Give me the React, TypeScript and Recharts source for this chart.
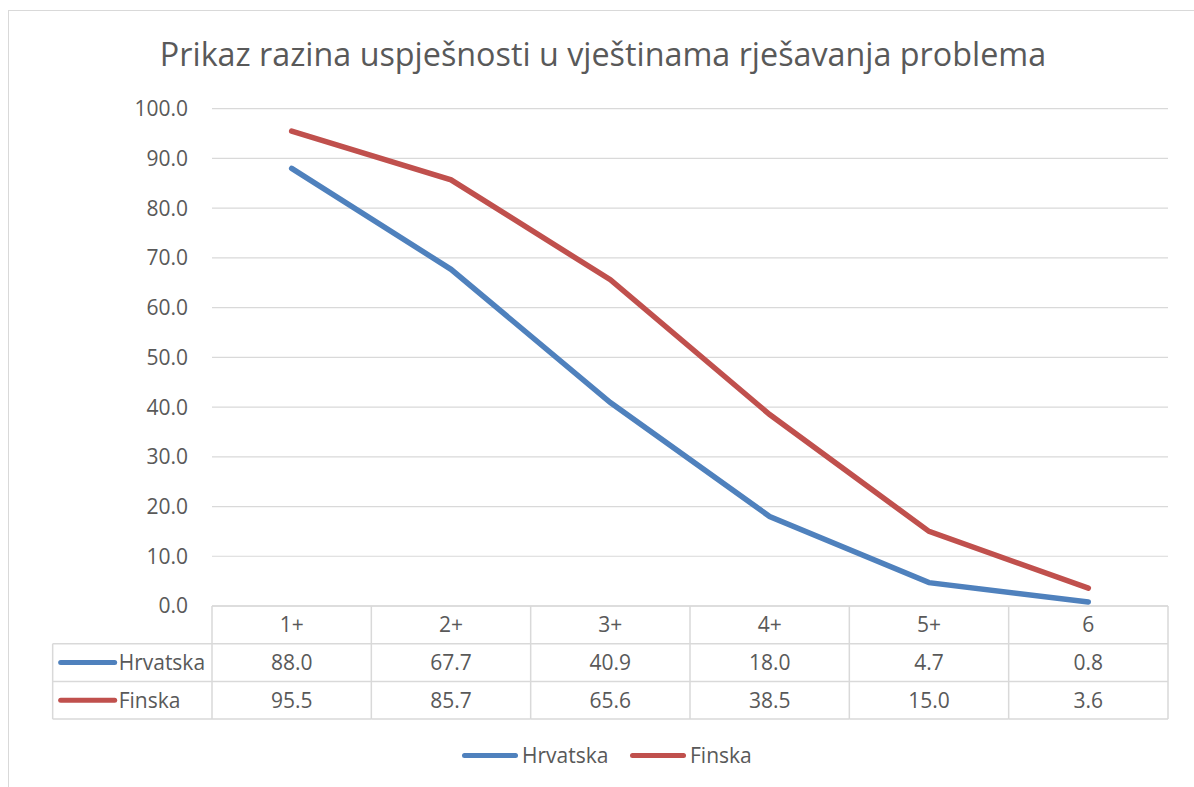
import React from 'react';
import { LineChart, Line, XAxis, YAxis, CartesianGrid, Legend, Customized } from 'recharts';

const categories = ['1+', '2+', '3+', '4+', '5+', '6'];
const hrvatska = [88.0, 67.7, 40.9, 18.0, 4.7, 0.8];
const finska = [95.5, 85.7, 65.6, 38.5, 15.0, 3.6];
const yTicks = [0, 10, 20, 30, 40, 50, 60, 70, 80, 90, 100];
const seriesNames = ['Hrvatska', 'Finska'];
const title = 'Prikaz razina uspješnosti u vještinama rješavanja problema';

const BLUE = '#4F81BD';
const RED = '#C0504D';
const TEXT = '#595959';
const GRID = '#D9D9D9';
const FONT = '"Open Sans", "Noto Sans", sans-serif';

const data = categories.map((c, i) => ({ cat: c, Hrvatska: hrvatska[i], Finska: finska[i] }));
const seriesColors = [BLUE, RED];
const seriesValues = [hrvatska, finska];

const ROW_H = 37.7;

const TableTick = (props: any) => {
  const { x, y, index, payload, width, visibleTicksCount } = props;
  const bw = width && visibleTicksCount ? width / visibleTicksCount : 956 / 6;
  const left = x - bw / 2;
  const right = x + bw / 2;
  const lineStyle = { stroke: GRID, strokeWidth: 1.5 };
  return (
    <g>
      {index === 0 && (
        <g>
          <line x1={left} y1={y} x2={left} y2={y + 3 * ROW_H} {...lineStyle} />
          <line x1={left - bw} y1={y + ROW_H} x2={left - bw} y2={y + 3 * ROW_H} {...lineStyle} />
          {[1, 2, 3].map((r) => (
            <line key={r} x1={left - bw} y1={y + r * ROW_H} x2={left} y2={y + r * ROW_H} {...lineStyle} />
          ))}
          {seriesNames.map((name, si) => (
            <g key={name}>
              <line
                x1={left - bw + 8}
                x2={left - bw + 62}
                y1={y + (si + 1.5) * ROW_H}
                y2={y + (si + 1.5) * ROW_H}
                stroke={seriesColors[si]}
                strokeWidth={5}
                strokeLinecap="round"
              />
              <text
                x={left - bw + 66}
                y={y + (si + 1.5) * ROW_H}
                dy="0.35em"
                textAnchor="start"
                fill={TEXT}
                fontSize={21}
                fontFamily={FONT}
              >
                {name}
              </text>
            </g>
          ))}
        </g>
      )}
      <line x1={right} y1={y} x2={right} y2={y + 3 * ROW_H} {...lineStyle} />
      {[1, 2, 3].map((r) => (
        <line key={r} x1={left} y1={y + r * ROW_H} x2={right} y2={y + r * ROW_H} {...lineStyle} />
      ))}
      <text x={x} y={y + 0.5 * ROW_H} dy="0.35em" textAnchor="middle" fill={TEXT} fontSize={21} fontFamily={FONT}>
        {payload.value}
      </text>
      {seriesValues.map((vals, si) => (
        <text
          key={si}
          x={x}
          y={y + (si + 1.5) * ROW_H}
          dy="0.35em"
          textAnchor="middle"
          fill={TEXT}
          fontSize={21}
          fontFamily={FONT}
        >
          {vals[index].toFixed(1)}
        </text>
      ))}
    </g>
  );
};

const Title = () => (
  <text x={603} y={66} textAnchor="middle" fill={TEXT} fontSize={32.3} fontFamily={FONT}>
    {title}
  </text>
);

const LegendContent = () => (
  <div style={{ position: 'relative', width: 1194, height: 30, fontFamily: FONT, fontSize: 21, color: TEXT }}>
    {seriesNames.map((name, i) => (
      <div
        key={name}
        style={{ position: 'absolute', left: i === 0 ? 462 : 630, top: 0, height: 30, display: 'flex', alignItems: 'center' }}
      >
        <div style={{ width: 56, height: 5, borderRadius: 3, background: seriesColors[i], marginRight: 4 }} />
        <span style={{ lineHeight: '30px' }}>{name}</span>
      </div>
    ))}
  </div>
);

export default function App() {
  return (
    <div style={{ position: 'absolute', left: 0, top: 0, width: 1194, height: 787, background: '#fff', overflow: 'hidden' }}>
      <div
        style={{
          position: 'absolute',
          left: 8,
          top: 10,
          width: 1300,
          height: 900,
          borderLeft: `1.5px solid ${GRID}`,
          borderTop: `1.5px solid ${GRID}`,
        }}
      />
      <LineChart
        width={1194}
        height={787}
        data={data}
        margin={{ top: 108.7, right: 26, left: 152, bottom: 17 }}
        style={{ fontFamily: FONT }}
      >
        <CartesianGrid vertical={false} stroke={GRID} strokeWidth={1.2} />
        <XAxis
          dataKey="cat"
          scale="band"
          height={134}
          tickSize={0}
          tickMargin={0}
          axisLine={{ stroke: GRID, strokeWidth: 1.5 }}
          tickLine={false}
          tick={<TableTick />}
          interval={0}
        />
        <YAxis
          domain={[0, 100]}
          ticks={yTicks}
          width={60}
          tickSize={0}
          tickMargin={24}
          axisLine={false}
          tickLine={false}
          tickFormatter={(v: number) => v.toFixed(1)}
          tick={{ fill: TEXT, fontSize: 21, fontFamily: FONT }}
          interval={0}
        />
        <Line
          type="linear"
          dataKey="Hrvatska"
          stroke={BLUE}
          strokeWidth={5.5}
          dot={false}
          activeDot={false}
          isAnimationActive={false}
          strokeLinecap="round"
        />
        <Line
          type="linear"
          dataKey="Finska"
          stroke={RED}
          strokeWidth={5.5}
          dot={false}
          activeDot={false}
          isAnimationActive={false}
          strokeLinecap="round"
        />
        <Legend
          verticalAlign="bottom"
          height={30}
          content={<LegendContent />}
          wrapperStyle={{ left: 0, width: 1194, height: 30 }}
        />
        <Customized component={<Title />} />
      </LineChart>
    </div>
  );
}
